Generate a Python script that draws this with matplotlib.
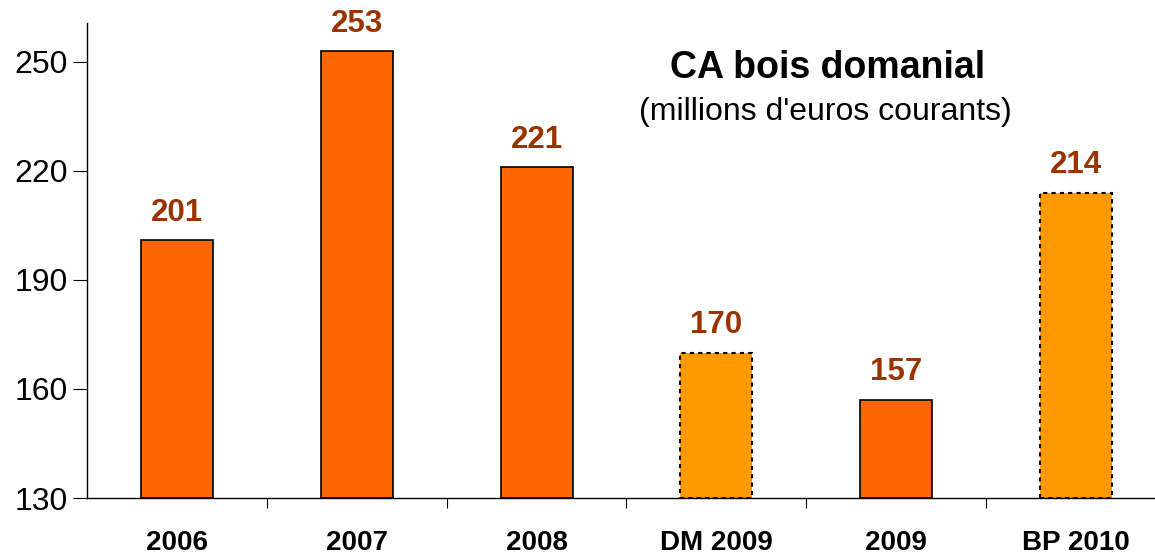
import matplotlib
matplotlib.use("Agg")
import matplotlib.pyplot as plt

categories = ["2006", "2007", "2008", "DM 2009", "2009", "BP 2010"]
values = [201, 253, 221, 170, 157, 214]
projected = [False, False, False, True, False, True]
yticks = [130, 160, 190, 220, 250]

plt.rcParams['font.family'] = ['Liberation Sans', 'DejaVu Sans']

fig = plt.figure(figsize=(11.55, 5.56), dpi=100)
ax = fig.add_axes([87/1155, 58/556, 1079/1155, 475/556])

x = list(range(len(categories)))
for i, v in enumerate(values):
    if projected[i]:
        ax.bar(i, v - 130, bottom=130, width=0.4, color="#FF9900",
               edgecolor="black", linewidth=1.5, linestyle=(0, (2, 2)), zorder=2)
    else:
        ax.bar(i, v - 130, bottom=130, width=0.4, color="#FF6600",
               edgecolor="black", linewidth=1.2, zorder=2)
    ax.annotate(str(v), xy=(i, v), xytext=(0, 14), textcoords="offset points",
                ha="center", va="baseline", fontsize=22.5, fontweight="bold",
                color="#993300")

ax.set_xlim(-0.5, 5.5)
ax.set_ylim(130, 260.7)
ax.set_yticks(yticks)
ax.set_yticklabels([str(t) for t in yticks], fontsize=23)
ax.set_xticks([i + 0.5 for i in x[:-1]])
ax.set_xticklabels([])
ax.set_xticks(x, minor=True)
ax.set_xticklabels(categories, minor=True, fontsize=20, fontweight="bold")
ax.tick_params(axis="x", which="minor", length=0, pad=23)
ax.tick_params(axis="x", which="major", length=7, direction="out")
ax.tick_params(axis="y", length=10, direction="out", pad=4)

for s in ["top", "right"]:
    ax.spines[s].set_visible(False)
ax.spines["left"].set_linewidth(1)
ax.spines["bottom"].set_linewidth(1)

fig.text(828/1155, 1 - 68/556, "CA bois domanial", ha="center", va="center",
         fontsize=27, fontweight="bold")
fig.text(825/1155, 1 - 112/556, "(millions d'euros courants)", ha="center",
         va="center", fontsize=23)

fig.savefig("out.png", dpi=100)
